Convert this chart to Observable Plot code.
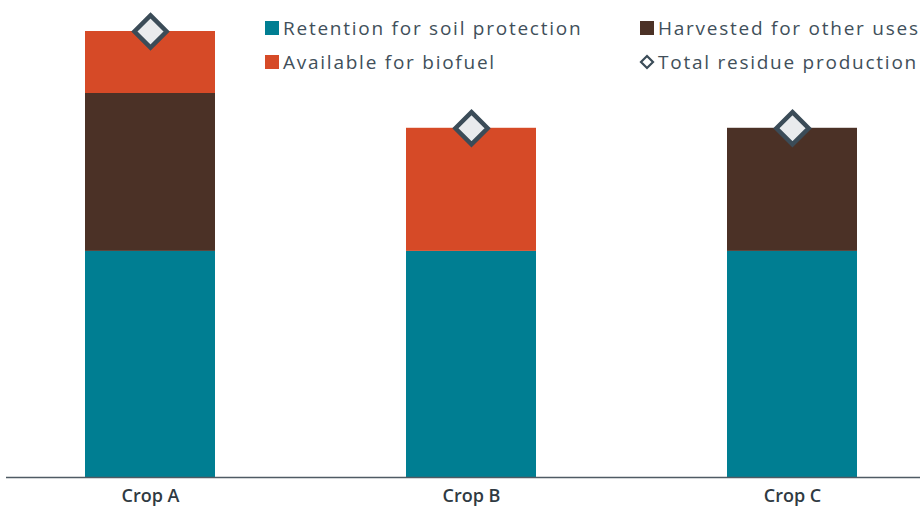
<!DOCTYPE html>
<html>
<head>
<meta charset="utf-8">
<script src="https://cdn.jsdelivr.net/npm/d3@7"></script>
<script src="https://cdn.jsdelivr.net/npm/@observablehq/plot@0.6"></script>
<style>
  html, body { margin: 0; padding: 0; background: #fff; }
  #wrap { position: relative; width: 920px; height: 506px; overflow: hidden; font-family: "Open Sans", sans-serif; }
  #legend { position: absolute; left: 0; top: 0; width: 920px; height: 80px; color: #414f5a; font-size: 19px; letter-spacing: 1.75px; }
  .item { position: absolute; display: flex; align-items: center; white-space: nowrap; }
  .sw { width: 14px; height: 14px; margin-right: 4px; display: inline-block; }
</style>
</head>
<body>
<div id="wrap"><div id="chart"></div><div id="legend"></div></div>
<script>
const crops = ["Crop A", "Crop B", "Crop C"];
const seriesNames = ["Retention for soil protection", "Harvested for other uses", "Available for biofuel"];
const retention = [50.7, 50.7, 50.7];
const harvested = [35.4, 0, 27.6];
const available = [13.9, 27.6, 0];
const totalLabel = "Total residue production";
const colors = ["#007e92", "#4b3126", "#d64a27"];

const seriesValues = [retention, harvested, available];
const rows = [];
seriesNames.forEach((s, si) => crops.forEach((c, ci) => rows.push({crop: c, series: s, value: seriesValues[si][ci]})));
const totals = crops.map((c, i) => ({crop: c, total: retention[i] + harvested[i] + available[i]}));

const chart = Plot.plot({
  width: 920,
  height: 506,
  marginLeft: 6,
  marginRight: 0,
  marginTop: 0,
  marginBottom: 29,
  style: {fontFamily: "Open Sans, sans-serif", background: "#fff"},
  x: {type: "band", domain: crops, range: [20, 922], paddingInner: 0.595, paddingOuter: 0.2, label: null, tickSize: 0, tickPadding: 13},
  y: {domain: [0, 100], range: [477, 31], axis: null},
  color: {domain: seriesNames, range: colors},
  marks: [
    Plot.barY(rows, {x: "crop", y: "value", fill: "series"}),
    Plot.ruleY([0], {stroke: "#4f5b64", strokeWidth: 1.5}),
    Plot.dot(totals, {x: "crop", y: "total", symbol: "diamond2", r: 14.5, fill: "#e9ebed", stroke: "#3b4c58", strokeWidth: 4.5}),
    Plot.axisX({tickSize: 0, tickPadding: 12, fontSize: 18, fill: "#2f3a42", label: null, fontWeight: 600})
  ]
});
document.getElementById("chart").appendChild(chart);

const legend = document.getElementById("legend");
const items = [
  {label: seriesNames[0], color: colors[0], left: 265, top: 15},
  {label: seriesNames[1], color: colors[1], left: 640, top: 15},
  {label: seriesNames[2], color: colors[2], left: 265, top: 49},
  {label: totalLabel, color: null, left: 639, top: 49}
];
items.forEach(it => {
  const d = document.createElement("div");
  d.className = "item";
  d.style.left = it.left + "px";
  d.style.top = it.top + "px";
  if (it.color) {
    const s = document.createElement("span");
    s.className = "sw";
    s.style.background = it.color;
    d.appendChild(s);
  } else {
    const s = document.createElementNS("http://www.w3.org/2000/svg", "svg");
    s.setAttribute("width", 16); s.setAttribute("height", 16);
    s.style.marginRight = "3px";
    s.innerHTML = '<path d="M8,2 L14,8 L8,14 L2,8 Z" fill="#fff" stroke="#3b4c58" stroke-width="2.2"/>';
    d.appendChild(s);
  }
  const t = document.createElement("span");
  t.textContent = it.label;
  d.appendChild(t);
  legend.appendChild(d);
});
</script>
</body>
</html>
